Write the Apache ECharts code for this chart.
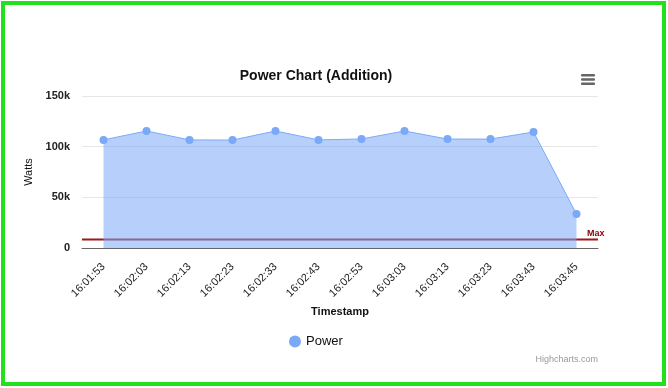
<!DOCTYPE html>
<html>
<head>
<meta charset="utf-8">
<script src="https://cdn.jsdelivr.net/npm/echarts@6/dist/echarts.min.js"></script>
<style>
  html, body { margin: 0; padding: 0; background: #fff; }
  #frame { position: absolute; left: 1px; top: 1px; width: 657px; height: 377px; border: 4px solid #22e01b; }
  #chart { position: absolute; left: 0; top: 0; width: 668px; height: 388px; }
</style>
</head>
<body>
<div id="frame"></div>
<div id="chart"></div>
<script>
const categories = ['16:01:53','16:02:03','16:02:13','16:02:23','16:02:33','16:02:43','16:02:53','16:03:03','16:03:13','16:03:23','16:03:43','16:03:45'];
const powerValues = [106700, 115500, 106700, 106500, 115500, 106700, 107600, 115500, 107500, 107500, 114500, 33500];
const maxValue = 8500;
const yTicks = ['0', '50k', '100k', '150k'];

const chart = echarts.init(document.getElementById('chart'), null, { renderer: 'canvas' });
const font = 'Liberation Sans, Arial, sans-serif';
chart.setOption({
  animation: false,
  textStyle: { fontFamily: font },
  title: {
    text: 'Power Chart (Addition)',
    left: 311, top: 64, textAlign: 'center',
    textStyle: { fontSize: 14, fontWeight: 'bold', color: '#111', fontFamily: font }
  },
  legend: {
    data: [{ name: 'Power', icon: 'circle' }],
    left: 284, top: 330,
    itemWidth: 12, itemHeight: 12,
    textStyle: { fontSize: 13, color: '#111', fontFamily: font }
  },
  grid: { left: 82, right: 70, top: 96, bottom: 140 },
  xAxis: [
    {
      type: 'category',
      data: categories,
      boundaryGap: true,
      name: 'Timestamp',
      nameLocation: 'middle',
      nameGap: 58,
      nameTextStyle: { fontSize: 11, color: '#111', fontFamily: font, fontWeight: 'bold' },
      axisLine: { lineStyle: { color: '#666', width: 1 } },
      axisTick: { show: false },
      axisLabel: { rotate: 45, fontSize: 11, color: '#222', margin: 17, interval: 0, fontFamily: font }
    },
    { type: 'value', min: 0, max: 1, show: false }
  ],
  yAxis: {
    type: 'value',
    min: 0, max: 150000, interval: 50000,
    name: 'Watts',
    nameLocation: 'middle',
    nameGap: 41,
    nameTextStyle: { fontSize: 11, color: '#111', fontFamily: font },
    axisLine: { show: false },
    axisTick: { show: false },
    splitLine: { lineStyle: { color: '#e6e6e6', width: 1 } },
    axisLabel: {
      fontSize: 11, fontWeight: 'bold', color: '#222', margin: 12, fontFamily: font,
      formatter: function (v) { return yTicks[Math.round(v / 50000)]; }
    }
  },
  series: [
    {
      name: 'MaxLine',
      type: 'line',
      xAxisIndex: 1,
      data: [[0, maxValue], [1, maxValue]],
      z: 1,
      silent: true,
      symbol: 'none',
      lineStyle: { color: '#9b1b1b', width: 2 },
      emphasis: { disabled: true },
      endLabel: {
        show: true, formatter: 'Max', color: '#8b0000', fontSize: 9, fontWeight: 'bold',
        fontFamily: font, offset: [-19, -6]
      }
    },
    {
      name: 'Power',
      type: 'line',
      data: powerValues,
      z: 2,
      symbol: 'circle',
      symbolSize: 8,
      itemStyle: { color: '#7aa9f7' },
      lineStyle: { color: '#7aa9f7', width: 1 },
      areaStyle: { color: '#7aa9f7', opacity: 0.55 }
    }
  ],
  graphic: [
    { type: 'rect', left: 581, top: 74, shape: { width: 14, height: 2.4, r: 1 }, style: { fill: '#666' } },
    { type: 'rect', left: 581, top: 78.3, shape: { width: 14, height: 2.4, r: 1 }, style: { fill: '#666' } },
    { type: 'rect', left: 581, top: 82.6, shape: { width: 14, height: 2.4, r: 1 }, style: { fill: '#666' } },
    { type: 'text', right: 70, top: 355, style: { text: 'Highcharts.com', fontSize: 9, fill: '#999', fontFamily: font } }
  ]
});
</script>
</body>
</html>
